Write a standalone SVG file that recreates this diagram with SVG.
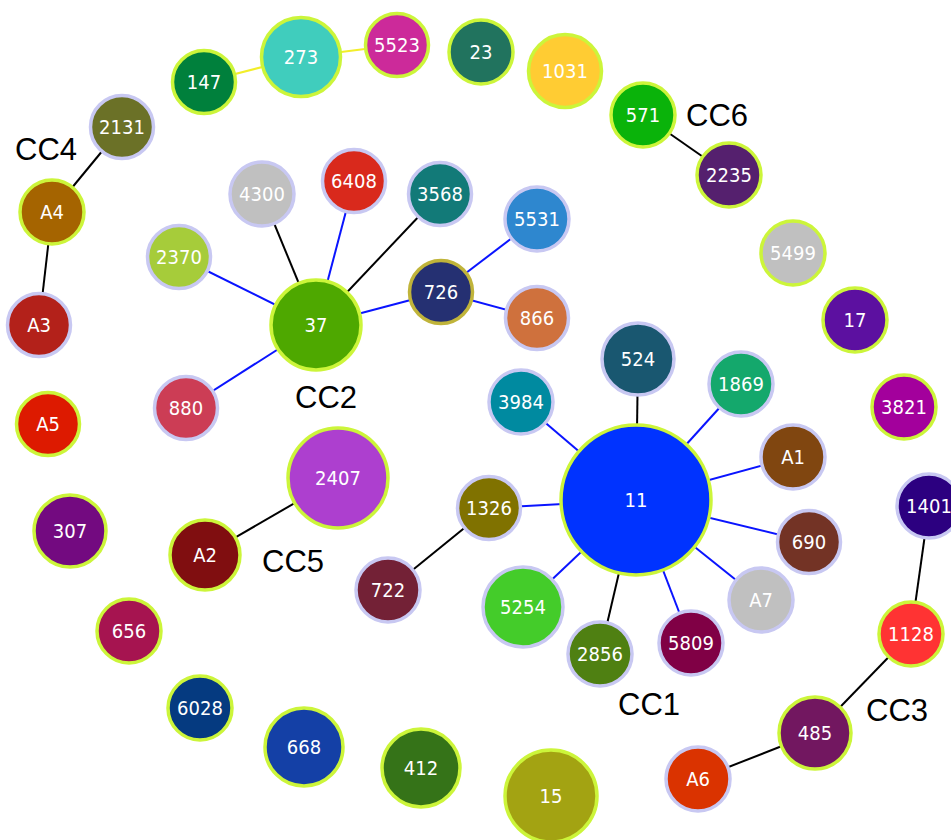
<svg xmlns="http://www.w3.org/2000/svg" width="951" height="840" viewBox="0 0 951 840">
<style>
.n circle{stroke-width:3.5}
.g{stroke:#ccf53a}
.l{stroke:#c8c8f2}
.n text{fill:#fff;font-family:"DejaVu Sans Condensed","Liberation Sans",sans-serif;font-size:20px;text-anchor:middle}
.cc{fill:#000;font-family:"Liberation Sans",Arial,sans-serif;font-size:31px}
#edges line{stroke-width:2}
.k{stroke:#000}
.b{stroke:#0a14ff}
.y{stroke:#f2ee2a}
</style>
<rect width="951" height="840" fill="#fff"/>
<g id="edges">
<line class="y" x1="204" y1="82" x2="301" y2="57"/>
<line class="y" x1="301" y1="57" x2="397" y2="45"/>
<line class="k" x1="122" y1="127" x2="52" y2="212"/>
<line class="k" x1="52" y1="212" x2="39" y2="325"/>
<line class="k" x1="643" y1="115" x2="729" y2="175"/>
<line class="k" x1="316" y1="325" x2="262" y2="194"/>
<line class="b" x1="316" y1="325" x2="354" y2="181"/>
<line class="k" x1="316" y1="325" x2="440" y2="194"/>
<line class="b" x1="316" y1="325" x2="179" y2="257"/>
<line class="b" x1="316" y1="325" x2="186" y2="408"/>
<line class="b" x1="316" y1="325" x2="441" y2="292"/>
<line class="b" x1="441" y1="292" x2="537" y2="219"/>
<line class="b" x1="441" y1="292" x2="537" y2="318"/>
<line class="k" x1="636" y1="500" x2="638" y2="359"/>
<line class="b" x1="636" y1="500" x2="741" y2="384"/>
<line class="b" x1="636" y1="500" x2="521" y2="402"/>
<line class="b" x1="636" y1="500" x2="793" y2="457"/>
<line class="b" x1="636" y1="500" x2="809" y2="542"/>
<line class="b" x1="636" y1="500" x2="489" y2="508"/>
<line class="b" x1="636" y1="500" x2="523" y2="607"/>
<line class="k" x1="636" y1="500" x2="600" y2="654"/>
<line class="b" x1="636" y1="500" x2="691" y2="643"/>
<line class="b" x1="636" y1="500" x2="761" y2="600"/>
<line class="k" x1="489" y1="508" x2="388" y2="590"/>
<line class="k" x1="338" y1="478" x2="205" y2="555"/>
<line class="k" x1="929" y1="506" x2="911" y2="634"/>
<line class="k" x1="911" y1="634" x2="815" y2="733"/>
<line class="k" x1="815" y1="733" x2="698" y2="779"/>
</g>
<g id="n147" class="n"><circle class="g" cx="204" cy="82" r="31.5" fill="#00803c"/><text x="204" y="89">147</text></g>
<g id="n273" class="n"><circle class="g" cx="301" cy="57" r="39.5" fill="#40cdbd"/><text x="301" y="64">273</text></g>
<g id="n5523" class="n"><circle class="g" cx="397" cy="45" r="31.5" fill="#cc2a9a"/><text x="397" y="52">5523</text></g>
<g id="n23" class="n"><circle class="g" cx="481" cy="52" r="32" fill="#21735e"/><text x="481" y="59">23</text></g>
<g id="n1031" class="n"><circle class="g" cx="565" cy="71" r="36.5" fill="#ffcc33"/><text x="565" y="78">1031</text></g>
<g id="n571" class="n"><circle class="g" cx="643" cy="115" r="32" fill="#0ab30a"/><text x="643" y="122">571</text></g>
<g id="n2235" class="n"><circle class="g" cx="729" cy="175" r="32" fill="#55206e"/><text x="729" y="182">2235</text></g>
<g id="n5499" class="n"><circle class="g" cx="793" cy="253" r="32" fill="#c0c0c0"/><text x="793" y="260">5499</text></g>
<g id="n17" class="n"><circle class="g" cx="855" cy="320" r="32" fill="#5c10a0"/><text x="855" y="327">17</text></g>
<g id="n3821" class="n"><circle class="g" cx="904" cy="407" r="32" fill="#a3009c"/><text x="904" y="414">3821</text></g>
<g id="n2131" class="n"><circle class="l" cx="122" cy="127" r="31.5" fill="#6b7127"/><text x="122" y="134">2131</text></g>
<g id="nA4" class="n"><circle class="g" cx="52" cy="212" r="32" fill="#a56400"/><text x="52" y="219">A4</text></g>
<g id="nA3" class="n"><circle class="l" cx="39" cy="325" r="31.5" fill="#b3211a"/><text x="39" y="332">A3</text></g>
<g id="nA5" class="n"><circle class="g" cx="48" cy="424" r="31.5" fill="#dd1a00"/><text x="48" y="431">A5</text></g>
<g id="n4300" class="n"><circle class="l" cx="262" cy="194" r="32" fill="#c0c0c0"/><text x="262" y="201">4300</text></g>
<g id="n6408" class="n"><circle class="l" cx="354" cy="181" r="31.5" fill="#d9291c"/><text x="354" y="188">6408</text></g>
<g id="n3568" class="n"><circle class="l" cx="440" cy="194" r="31.5" fill="#127a78"/><text x="440" y="201">3568</text></g>
<g id="n2370" class="n"><circle class="l" cx="179" cy="257" r="31.5" fill="#a6cc3a"/><text x="179" y="264">2370</text></g>
<g id="n37" class="n"><circle class="g" cx="316" cy="325" r="45" fill="#4ea800"/><text x="316" y="332">37</text></g>
<g id="n726" class="n"><circle cx="441" cy="292" r="31.5" fill="#253072" stroke="#c0b43a"/><text x="441" y="299">726</text></g>
<g id="n5531" class="n"><circle class="l" cx="537" cy="219" r="32" fill="#2e87cf"/><text x="537" y="226">5531</text></g>
<g id="n866" class="n"><circle class="l" cx="537" cy="318" r="31.5" fill="#cf713d"/><text x="537" y="325">866</text></g>
<g id="n880" class="n"><circle class="l" cx="186" cy="408" r="31.5" fill="#cc3d55"/><text x="186" y="415">880</text></g>
<g id="n2407" class="n"><circle class="g" cx="338" cy="478" r="50" fill="#ad3fcf"/><text x="338" y="485">2407</text></g>
<g id="n307" class="n"><circle class="g" cx="70" cy="531" r="36" fill="#730a80"/><text x="70" y="538">307</text></g>
<g id="nA2" class="n"><circle class="g" cx="205" cy="555" r="35" fill="#800e10"/><text x="205" y="562">A2</text></g>
<g id="n524" class="n"><circle class="l" cx="638" cy="359" r="36" fill="#195770"/><text x="638" y="366">524</text></g>
<g id="n1869" class="n"><circle class="l" cx="741" cy="384" r="32" fill="#14a86c"/><text x="741" y="391">1869</text></g>
<g id="n3984" class="n"><circle class="l" cx="521" cy="402" r="32" fill="#008aa0"/><text x="521" y="409">3984</text></g>
<g id="nA1" class="n"><circle class="l" cx="793" cy="457" r="32" fill="#804610"/><text x="793" y="464">A1</text></g>
<g id="n11" class="n"><circle class="g" cx="636" cy="500" r="75" fill="#0033ff"/><text x="636" y="507">11</text></g>
<g id="n1326" class="n"><circle class="l" cx="489" cy="508" r="31.5" fill="#807200"/><text x="489" y="515">1326</text></g>
<g id="n690" class="n"><circle class="l" cx="809" cy="542" r="31.5" fill="#733325"/><text x="809" y="549">690</text></g>
<g id="n1401" class="n"><circle class="l" cx="929" cy="506" r="32" fill="#2c0080"/><text x="929" y="513">1401</text></g>
<g id="n722" class="n"><circle class="l" cx="388" cy="590" r="32" fill="#732136"/><text x="388" y="597">722</text></g>
<g id="n5254" class="n"><circle class="l" cx="523" cy="607" r="40" fill="#44cc2a"/><text x="523" y="614">5254</text></g>
<g id="n2856" class="n"><circle class="l" cx="600" cy="654" r="32" fill="#4f8012"/><text x="600" y="661">2856</text></g>
<g id="n5809" class="n"><circle class="l" cx="691" cy="643" r="32" fill="#800045"/><text x="691" y="650">5809</text></g>
<g id="nA7" class="n"><circle class="l" cx="761" cy="600" r="32" fill="#c0c0c0"/><text x="761" y="607">A7</text></g>
<g id="n1128" class="n"><circle class="g" cx="911" cy="634" r="32" fill="#ff3333"/><text x="911" y="641">1128</text></g>
<g id="n485" class="n"><circle class="g" cx="815" cy="733" r="36" fill="#721760"/><text x="815" y="740">485</text></g>
<g id="nA6" class="n"><circle class="l" cx="698" cy="779" r="32" fill="#da3300"/><text x="698" y="786">A6</text></g>
<g id="n656" class="n"><circle class="g" cx="129" cy="631" r="32" fill="#a61450"/><text x="129" y="638">656</text></g>
<g id="n6028" class="n"><circle class="g" cx="200" cy="708" r="32" fill="#053a80"/><text x="200" y="715">6028</text></g>
<g id="n668" class="n"><circle class="g" cx="304" cy="747" r="39" fill="#1440a6"/><text x="304" y="754">668</text></g>
<g id="n412" class="n"><circle class="g" cx="421" cy="768" r="39" fill="#357318"/><text x="421" y="775">412</text></g>
<g id="n15" class="n"><circle class="g" cx="551" cy="796" r="46" fill="#a3a312"/><text x="551" y="803">15</text></g>
<g id="labels">
<text class="cc" x="15" y="160">CC4</text>
<text class="cc" x="295" y="408">CC2</text>
<text class="cc" x="262" y="572">CC5</text>
<text class="cc" x="686" y="126">CC6</text>
<text class="cc" x="618" y="715">CC1</text>
<text class="cc" x="866" y="721">CC3</text>
</g>
</svg>
